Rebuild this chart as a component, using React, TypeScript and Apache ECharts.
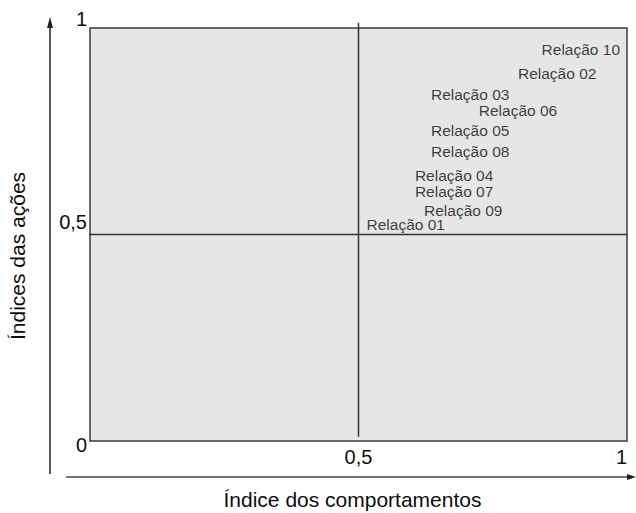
import React, { useEffect, useRef } from "react";
import * as echarts from "echarts";

const relationNames = [
  "Relação 10",
  "Relação 02",
  "Relação 03",
  "Relação 06",
  "Relação 05",
  "Relação 08",
  "Relação 04",
  "Relação 07",
  "Relação 09",
  "Relação 01",
];
const behaviourIndex = [0.914, 0.870, 0.708, 0.797, 0.708, 0.708, 0.678, 0.678, 0.695, 0.588];
const actionIndex = [0.947, 0.889, 0.838, 0.801, 0.753, 0.700, 0.644, 0.605, 0.557, 0.525];
const xTickLabels = ["", "0,5", "1"];
const yTickLabels = ["0", "0,5", "1"];
const xTitle = "Índice dos comportamentos";
const yTitle = "Índices das ações";
// quadrant dividers (vertical at x = 0.5, horizontal at y = 0.5)
const verticalDivider = [[0.5, 1.013], [0.5, 0.0104]];
const horizontalDivider = [[-0.011, 0.5], [1, 0.5]];

const FONT = "'Liberation Sans', Arial, Helvetica, sans-serif";
const TEXT = "#0d0d0d";

export default function App() {
  const ref = useRef<HTMLDivElement>(null);
  useEffect(() => {
    document.body.style.margin = "0";
    const chart = echarts.init(ref.current!, undefined, { renderer: "svg" });
    const data = relationNames.map((n, i) => [behaviourIndex[i], actionIndex[i], n]);
    const tickIdx = (v: number) => Math.round(v * 2);
    const divider = (d: number[][]) => ({
      type: "line",
      data: d,
      clip: false,
      symbol: "none",
      silent: true,
      lineStyle: { color: "#333", width: 1.5 },
      z: 1,
    });
    chart.setOption({
      animation: false,
      textStyle: { fontFamily: FONT },
      grid: {
        left: 90,
        right: 9,
        top: 28,
        bottom: 72,
        containLabel: false,
        outerBoundsMode: "none",
        show: true,
        backgroundColor: "#e6e6e7",
        borderColor: "#3a3a3a",
        borderWidth: 1.5,
      },
      xAxis: {
        type: "value",
        min: 0,
        max: 1,
        interval: 0.5,
        axisLine: { show: false },
        axisTick: { show: false },
        splitLine: { show: false },
        axisLabel: {
          margin: 6,
          fontSize: 20,
          color: TEXT,
          fontFamily: FONT,
          alignMaxLabel: "right",
          formatter: (v: number) => xTickLabels[tickIdx(v)],
        },
        name: xTitle,
        nameLocation: "middle",
        nameGap: 48,
        nameTextStyle: { fontSize: 21, color: TEXT, fontFamily: FONT, padding: [0, 12, 0, 0] },
      },
      yAxis: {
        type: "value",
        min: 0,
        max: 1,
        interval: 0.5,
        axisLine: { show: false },
        axisTick: { show: false },
        splitLine: { show: false },
        axisLabel: {
          margin: 3,
          color: TEXT,
          fontSize: 20,
          fontFamily: FONT,
          formatter: (v: number) => {
            const i = tickIdx(v);
            const key = i === 0 ? "z" : i === 1 ? "h" : "o";
            return "{" + key + "|" + yTickLabels[i] + "}";
          },
          rich: {
            z: { fontSize: 20, color: TEXT, fontFamily: FONT, padding: [8, 0, 0, 0] },
            h: { fontSize: 20, color: TEXT, fontFamily: FONT, padding: [0, 0, 26, 0] },
            o: { fontSize: 20, color: TEXT, fontFamily: FONT, padding: [0, 0, 18, 0] },
          },
        },
        name: yTitle,
        nameLocation: "middle",
        nameGap: 62,
        nameTextStyle: { fontSize: 21, color: TEXT, fontFamily: FONT, padding: [0, 43, 0, 0] },
      },
      series: [
        divider(verticalDivider),
        divider(horizontalDivider),
        {
          type: "scatter",
          clip: false,
          symbolSize: 0,
          data,
          z: 3,
          label: {
            show: true,
            position: "inside",
            formatter: (p: any) => p.data[2],
            fontSize: 15.5,
            color: TEXT,
            fontFamily: FONT,
          },
        },
      ],
      graphic: [
        { type: "line", shape: { x1: 50, y1: 474, x2: 50, y2: 27 }, style: { stroke: "#222", lineWidth: 1.5 } },
        { type: "polygon", shape: { points: [[50, 17], [47, 28], [53, 28]] }, style: { fill: "#222" } },
        { type: "line", shape: { x1: 66, y1: 477, x2: 628, y2: 477 }, style: { stroke: "#444", lineWidth: 1.5 } },
        { type: "polygon", shape: { points: [[636, 477], [627, 474], [627, 480]] }, style: { fill: "#222" } },
      ],
    });
    return () => chart.dispose();
  }, []);
  return <div ref={ref} style={{ width: 636, height: 513, position: "absolute", left: 0, top: 0 }} />;
}
